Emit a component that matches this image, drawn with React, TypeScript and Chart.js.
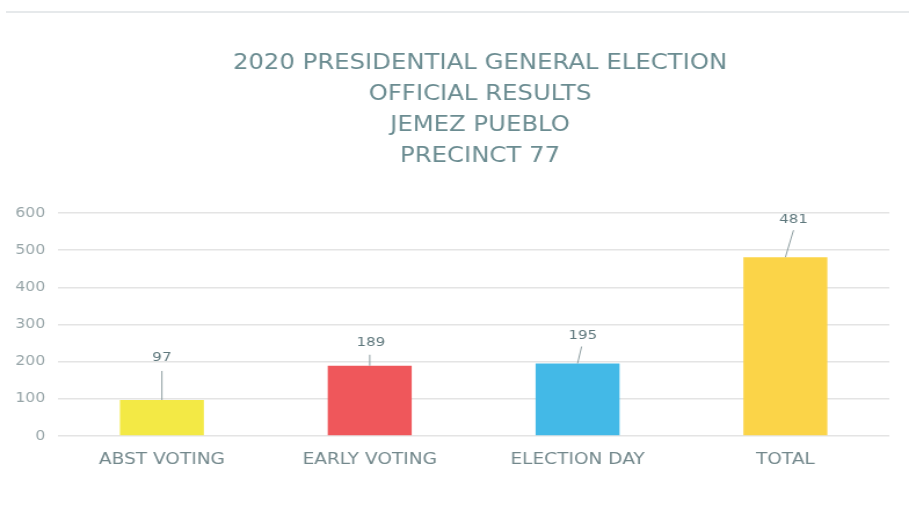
import React, { useEffect, useRef } from "react";
import { Chart, registerables } from "chart.js";

Chart.register(...registerables);

const titleLines = [
  "2020 PRESIDENTIAL GENERAL ELECTION",
  "OFFICIAL RESULTS",
  "JEMEZ PUEBLO",
  "PRECINCT 77",
];
const categories = ["ABST VOTING", "EARLY VOTING", "ELECTION DAY", "TOTAL"];
const votes = [97, 189, 195, 481];
const barColors = ["#f3e945", "#ef575b", "#43b9e7", "#fbd448"];
const yTicks = [0, 100, 200, 300, 400, 500, 600];

const FONT = "'DejaVu Sans', 'Liberation Sans', Arial, sans-serif";
// the reference image is horizontally stretched; render narrower and stretch
const PAGE_W = 909;
const PAGE_H = 508;
const INNER_W = 784;
const STRETCH = PAGE_W / INNER_W;

const leaderLabels = {
  id: "leaderLabels",
  afterDatasetsDraw(chart: any, _args: any, opts: any) {
    const ctx = chart.ctx;
    const meta = chart.getDatasetMeta(0);
    const offs = opts.offsets || [];
    ctx.save();
    meta.data.forEach((el: any, i: number) => {
      const o = offs[i] || { lx: 0, ly: -20, tx: 0, ty: -32 };
      const x = el.x;
      const y = el.y;
      ctx.strokeStyle = "#8e9ea1";
      ctx.lineWidth = 1;
      ctx.beginPath();
      ctx.moveTo(x, y);
      ctx.lineTo(x + o.lx, y + o.ly);
      ctx.stroke();
      ctx.fillStyle = "#5f787d";
      ctx.font = "13px " + FONT;
      ctx.textAlign = "center";
      ctx.textBaseline = "middle";
      ctx.fillText(String(votes[i]), x + o.tx, y + o.ty);
    });
    ctx.restore();
  },
};

const centerTitle = {
  id: "centerTitle",
  afterDraw(chart: any, _args: any, opts: any) {
    const ctx = chart.ctx;
    ctx.save();
    ctx.fillStyle = "#6b8c91";
    ctx.font = "21px " + FONT;
    ctx.textAlign = "center";
    ctx.textBaseline = "middle";
    (opts.lines || []).forEach((line: string, i: number) => {
      ctx.fillText(line, opts.x, opts.y + i * opts.lineHeight);
    });
    ctx.restore();
  },
};

export default function App() {
  const ref = useRef<HTMLCanvasElement | null>(null);
  useEffect(() => {
    if (!ref.current) return;
    const chart = new Chart(ref.current, {
      type: "bar",
      data: {
        labels: categories,
        datasets: [
          {
            data: votes,
            backgroundColor: barColors,
            borderWidth: 0,
            categoryPercentage: 0.8,
            barPercentage: 0.505,
          },
        ],
      },
      plugins: [leaderLabels, centerTitle],
      options: {
        animation: false,
        responsive: true,
        maintainAspectRatio: false,
        layout: { padding: { left: 0, right: 17, top: 213, bottom: 0 } },
        plugins: {
          legend: { display: false },
          tooltip: { enabled: false },
          title: { display: false },
          centerTitle: {
            lines: titleLines,
            x: 414,
            y: 63.5,
            lineHeight: 31,
          },
          leaderLabels: {
            offsets: [
              { lx: 0, ly: -29, tx: 0, ty: -42 },
              { lx: 0, ly: -11, tx: 1, ty: -23 },
              { lx: 3.5, ly: -17, tx: 4.5, ty: -28 },
              { lx: 7, ly: -27, tx: 7, ty: -38 },
            ],
          },
        } as any,
        scales: {
          x: {
            grid: { display: false, drawTicks: false },
            border: { display: false },
            ticks: {
              color: "#73888c",
              font: { family: FONT, size: 16 },
              padding: 14,
              maxRotation: 0,
            },
            afterFit(scale: any) {
              scale.height = 72;
            },
          },
          y: {
            min: 0,
            max: 600,
            afterBuildTicks(scale: any) {
              scale.ticks = yTicks.map((v) => ({ value: v }));
            },
            grid: { color: "#e4e4e4", lineWidth: 1.5, drawTicks: false },
            border: { display: false },
            ticks: {
              color: "#97a5a8",
              font: { family: FONT, size: 13.5 },
              padding: 11,
            },
            afterFit(scale: any) {
              scale.width = 50;
            },
          },
        },
      },
    });
    return () => chart.destroy();
  }, []);

  return (
    <div
      style={{
        position: "fixed",
        left: 0,
        top: 0,
        width: PAGE_W,
        height: PAGE_H,
        background: "#ffffff",
        overflow: "hidden",
      }}
    >
      <div
        style={{
          position: "absolute",
          left: 6,
          right: 0,
          top: 11,
          height: 2,
          background: "#e6e9eb",
        }}
      />
      <div
        style={{
          position: "absolute",
          left: 0,
          top: 0,
          width: INNER_W,
          height: PAGE_H,
          transform: `scaleX(${STRETCH})`,
          transformOrigin: "0 0",
        }}
      >
        <canvas ref={ref} />
      </div>
    </div>
  );
}
